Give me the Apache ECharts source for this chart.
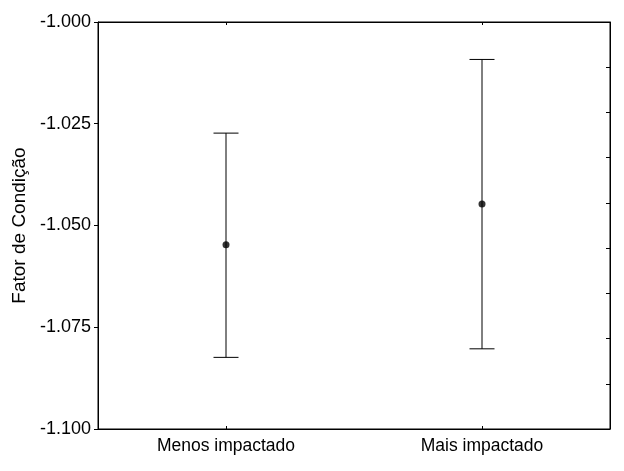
<!DOCTYPE html>
<html>
<head>
    <meta charset="utf-8">
    <title>Fator de Condição</title>
    <script src="https://cdn.jsdelivr.net/npm/echarts@6/dist/echarts.min.js"></script>
    <style>
        html, body { margin: 0; padding: 0; background: #fff; }
    </style>
</head>
<body>
    <div id="main" style="width: 624px;height:471px;"></div>
    <script type="text/javascript">
        // dados
        var categorias = ['Menos impactado', 'Mais impactado'];
        var medias = [-1.0547, -1.0447];
        var limiteInferior = [-1.0824, -1.0803];
        var limiteSuperior = [-1.0273, -1.0092];

        var fonte = '"Liberation Sans", Arial, sans-serif';

        var barras = [];
        for (var i = 0; i < categorias.length; i++) {
            barras.push([i, limiteInferior[i], limiteSuperior[i]]);
        }

        var myChart = echarts.init(document.getElementById('main'));

        var option = {
            animation: false,
            backgroundColor: '#fff',
            grid: {
                left: 98,
                right: 14,
                top: 22,
                bottom: 42,
                show: true,
                borderColor: '#000',
                borderWidth: 1
            },
            xAxis: [{
                type: 'category',
                data: categorias,
                position: 'bottom',
                boundaryGap: true,
                axisLine: { show: true, lineStyle: { color: '#000', width: 1 } },
                axisTick: { show: true, inside: true, length: 3, alignWithLabel: true, lineStyle: { color: '#000' } },
                axisLabel: { color: '#000', fontSize: 17.5, fontFamily: fonte, margin: 8 },
                splitLine: { show: false }
            }, {
                type: 'category',
                data: categorias,
                position: 'top',
                boundaryGap: true,
                axisLine: { show: true, lineStyle: { color: '#000', width: 1 } },
                axisTick: { show: true, inside: true, length: 3, alignWithLabel: true, lineStyle: { color: '#000' } },
                axisLabel: { show: false },
                splitLine: { show: false }
            }],
            yAxis: [{
                type: 'value',
                min: -1.1,
                max: -1.0,
                interval: 0.025,
                position: 'left',
                name: 'Fator de Condição',
                nameLocation: 'middle',
                nameGap: 64,
                nameTextStyle: { color: '#000', fontSize: 19, fontFamily: fonte },
                axisLine: { show: true, lineStyle: { color: '#000', width: 1 } },
                axisTick: { show: true, inside: false, length: 4, lineStyle: { color: '#000' } },
                axisLabel: {
                    color: '#000', fontSize: 18, fontFamily: fonte, margin: 7,
                    formatter: function (v) { return v.toFixed(3); }
                },
                splitLine: { show: false }
            }, {
                type: 'value',
                min: 0,
                max: 9,
                interval: 1,
                position: 'right',
                axisLine: { show: true, lineStyle: { color: '#000', width: 1 } },
                axisTick: { show: true, inside: true, length: 4, lineStyle: { color: '#000' } },
                axisLabel: { show: false },
                splitLine: { show: false }
            }],
            series: [{
                type: 'custom',
                xAxisIndex: 0,
                yAxisIndex: 0,
                data: barras,
                renderItem: function (params, api) {
                    var x = api.value(0);
                    var baixo = api.coord([x, api.value(1)]);
                    var alto = api.coord([x, api.value(2)]);
                    var meia = 12.5;
                    var estilo = { stroke: '#000', lineWidth: 1 };
                    return {
                        type: 'group',
                        children: [{
                            type: 'line',
                            shape: { x1: alto[0], y1: alto[1], x2: baixo[0], y2: baixo[1] },
                            style: estilo
                        }, {
                            type: 'line',
                            shape: { x1: alto[0] - meia, y1: alto[1], x2: alto[0] + meia, y2: alto[1] },
                            style: estilo
                        }, {
                            type: 'line',
                            shape: { x1: baixo[0] - meia, y1: baixo[1], x2: baixo[0] + meia, y2: baixo[1] },
                            style: estilo
                        }]
                    };
                },
                z: 2
            }, {
                type: 'scatter',
                xAxisIndex: 0,
                yAxisIndex: 0,
                data: medias,
                symbol: 'circle',
                symbolSize: 7,
                itemStyle: { color: '#000' },
                z: 3
            }]
        };

        myChart.setOption(option);
    </script>
</body>
</html>
